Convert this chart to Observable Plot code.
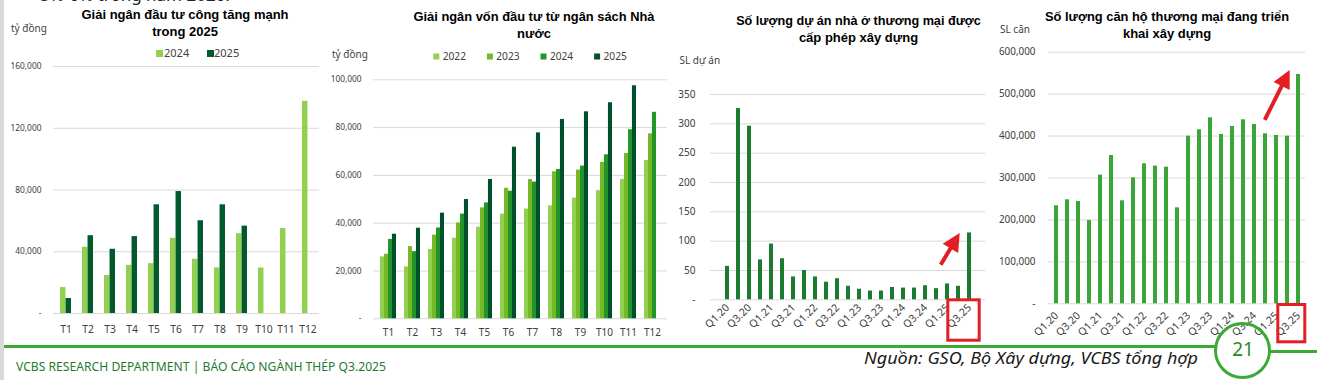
<!DOCTYPE html>
<html lang="vi">
<head>
<meta charset="utf-8">
<script src="https://cdn.jsdelivr.net/npm/d3@7"></script>
<script src="https://cdn.jsdelivr.net/npm/@observablehq/plot@0.6"></script>
<style>
html,body{margin:0;padding:0;background:#fff;}
#page{position:relative;width:1317px;height:380px;overflow:hidden;background:#fff;}
.chart{position:absolute;line-height:0;}
#overlay{position:absolute;left:0;top:0;pointer-events:none;}
</style>
</head>
<body>
<div id="page"></div>
<script>
// ---------- DATA ----------
const months = ["T1","T2","T3","T4","T5","T6","T7","T8","T9","T10","T11","T12"];

// Chart 1: Giải ngân đầu tư công (tỷ đồng)
const pub2024 = [16800, 42900, 24600, 31200, 32300, 48700, 35100, 29500, 51700, 29500, 55100, 137400];
const pub2025 = [9700, 50400, 41600, 49800, 70400, 79000, 60100, 70400, 56600];
const ticks1 = [0, 40000, 80000, 120000, 160000];

// Chart 2: Giải ngân vốn đầu tư từ ngân sách Nhà nước (tỷ đồng, lũy kế)
const bud2022 = [25900, 21700, 29000, 33700, 38300, 43800, 45900, 47300, 50500, 53600, 58300, 66200];
const bud2023 = [27000, 30200, 35000, 40100, 46400, 54600, 58300, 61500, 62200, 65400, 69200, 77400];
const bud2024 = [33200, 28100, 38000, 43800, 48500, 53400, 57200, 62500, 63900, 68600, 79100, 86400];
const bud2025 = [35400, 37900, 44200, 49900, 58300, 71800, 77800, 83400, 86600, 90400, 97500];
const ticks2 = [0, 20000, 40000, 60000, 80000, 100000];

// Chart 3 & 4: quarters
const quarters = ["Q1.20","Q2.20","Q3.20","Q4.20","Q1.21","Q2.21","Q3.21","Q4.21","Q1.22","Q2.22","Q3.22","Q4.22",
                  "Q1.23","Q2.23","Q3.23","Q4.23","Q1.24","Q2.24","Q3.24","Q4.24","Q1.25","Q2.25","Q3.25"];
const quarterTicks = ["Q1.20","Q3.20","Q1.21","Q3.21","Q1.22","Q3.22","Q1.23","Q3.23","Q1.24","Q3.24","Q1.25","Q3.25"];
const projects = [57, 326, 296, 68, 95, 70, 39, 50, 39, 30, 36, 23, 18, 15, 15, 21, 20, 20, 24, 19, 27, 23, 114];
const ticks3 = [0, 50, 100, 150, 200, 250, 300, 350];
const apartments = [233700, 248000, 244000, 198700, 306800, 353700, 245600, 300500, 333900, 328300, 325900, 228900,
                    399800, 415000, 443600, 403800, 422900, 438800, 427700, 405400, 401400, 399800, 546900];
const ticks4 = [0, 100000, 200000, 300000, 400000, 500000, 600000];

// ---------- HELPERS ----------
const page = document.getElementById("page");
const NS = "http://www.w3.org/2000/svg";
const fmt = d => d === 0 ? "-" : d3.format(",")(d);
const rows = (cats, vals) => cats.map((c, i) => ({cat: c, value: vals[i]})).filter(d => d.value != null);
const bandwidth = (w, ml, mr, n, pi, po) => (w - ml - mr) / (n - pi + 2 * po) * (1 - pi);
const tickFont = '"Noto Sans", "Open Sans", sans-serif';

function place(svg, left, top) {
  const d = document.createElement("div");
  d.className = "chart";
  d.style.left = left + "px";
  d.style.top = top + "px";
  d.appendChild(svg);
  page.appendChild(d);
  return svg;
}

// ---------- CHART 1 ----------
const C1 = {left: 0, top: 56, w: 320, h: 289, ml: 53, mr: 1, mt: 10, mb: 32, pi: 0.5, po: 0.25};
const bw1 = bandwidth(C1.w, C1.ml, C1.mr, months.length, C1.pi, C1.po);
const plot1 = place(Plot.plot({
  width: C1.w, height: C1.h, marginLeft: C1.ml, marginRight: C1.mr, marginTop: C1.mt, marginBottom: C1.mb,
  style: {fontFamily: tickFont, color: "#404040", background: "transparent", overflow: "visible"},
  x: {type: "band", domain: months, paddingInner: C1.pi, paddingOuter: C1.po},
  y: {domain: [0, 160000]},
  marks: [
    Plot.ruleY(ticks1, {stroke: "#d9d9d9", strokeWidth: 1}),
    Plot.barY(rows(months, pub2024), {x: "cat", y: "value", fill: "#92d050", insetRight: bw1 / 2}),
    Plot.barY(rows(months, pub2025), {x: "cat", y: "value", fill: "#005a2b", insetLeft: bw1 / 2}),
    Plot.axisX({tickSize: 0, tickPadding: 12, fontSize: 10.3, label: null}),
    Plot.axisY({ticks: ticks1, tickSize: 0, tickPadding: 12, tickFormat: fmt, fontSize: 8.4, label: null})
  ]
}), C1.left, C1.top);

// ---------- CHART 2 ----------
const C2 = {left: 320, top: 70, w: 348, h: 275, ml: 53, mr: 1, mt: 9.3, mb: 26.7, pi: 0.35, po: 0.175};
const bw2 = bandwidth(C2.w, C2.ml, C2.mr, months.length, C2.pi, C2.po);
const series2 = [[bud2022, "#92d050"], [bud2023, "#76b82a"], [bud2024, "#23962a"], [bud2025, "#00502b"]];
const plot2 = place(Plot.plot({
  width: C2.w, height: C2.h, marginLeft: C2.ml, marginRight: C2.mr, marginTop: C2.mt, marginBottom: C2.mb,
  style: {fontFamily: tickFont, color: "#404040", background: "transparent", overflow: "visible"},
  x: {type: "band", domain: months, paddingInner: C2.pi, paddingOuter: C2.po},
  y: {domain: [0, 100000]},
  marks: [
    Plot.ruleY(ticks2, {stroke: "#d9d9d9", strokeWidth: 1}),
    ...series2.map(([vals, color], k) =>
      Plot.barY(rows(months, vals), {x: "cat", y: "value", fill: color,
        insetLeft: k * bw2 / 4, insetRight: (3 - k) * bw2 / 4})),
    Plot.axisX({tickSize: 0, tickPadding: 10.5, fontSize: 10, label: null}),
    Plot.axisY({ticks: ticks2, tickSize: 0, tickPadding: 12, tickFormat: fmt, fontSize: 8.3, label: null})
  ]
}), C2.left, C2.top);

// ---------- CHART 3 ----------
const C3 = {left: 665, top: 80, w: 325, h: 265, ml: 45, mr: 5, mt: 14, mb: 45.7, pi: 0.66, po: 0.33};
const plot3 = place(Plot.plot({
  width: C3.w, height: C3.h, marginLeft: C3.ml, marginRight: C3.mr, marginTop: C3.mt, marginBottom: C3.mb,
  style: {fontFamily: tickFont, color: "#404040", background: "transparent", overflow: "visible"},
  x: {type: "band", domain: quarters, paddingInner: C3.pi, paddingOuter: C3.po},
  y: {domain: [0, 350]},
  marks: [
    Plot.ruleY(ticks3, {stroke: "#d9d9d9", strokeWidth: 1}),
    Plot.barY(rows(quarters, projects), {x: "cat", y: "value", fill: "#1b7b2f"}),
    Plot.axisX({ticks: quarterTicks, tickRotate: -45, tickSize: 0, tickPadding: 6, fontSize: 10.5, label: null}),
    Plot.axisY({ticks: ticks3, tickSize: 0, tickPadding: 15, tickFormat: fmt, fontSize: 10, label: null})
  ]
}), C3.left, C3.top);

// ---------- CHART 4 ----------
const C4 = {left: 990, top: 40, w: 317, h: 305, ml: 58, mr: 2, mt: 11.7, mb: 41.7, pi: 0.64, po: 0.32};
const plot4 = place(Plot.plot({
  width: C4.w, height: C4.h, marginLeft: C4.ml, marginRight: C4.mr, marginTop: C4.mt, marginBottom: C4.mb,
  style: {fontFamily: tickFont, color: "#404040", background: "transparent", overflow: "visible"},
  x: {type: "band", domain: quarters, paddingInner: C4.pi, paddingOuter: C4.po},
  y: {domain: [0, 600000]},
  marks: [
    Plot.ruleY(ticks4, {stroke: "#d9d9d9", strokeWidth: 1}),
    Plot.barY(rows(quarters, apartments), {x: "cat", y: "value", fill: "#3aa637"}),
    Plot.axisX({ticks: quarterTicks, tickRotate: -45, tickSize: 0, tickPadding: 10, fontSize: 10.5, label: null}),
    Plot.axisY({ticks: ticks4, tickSize: 0, tickPadding: 13, tickFormat: fmt, fontSize: 9.9, label: null})
  ]
}), C4.left, C4.top);

// ---------- OVERLAY (titles, legends, footer, annotations) ----------
const ov = document.createElementNS(NS, "svg");
ov.setAttribute("width", 1317); ov.setAttribute("height", 380); ov.id = "overlay";
page.appendChild(ov);
function el(tag, attrs) {
  const e = document.createElementNS(NS, tag);
  for (const k in attrs) e.setAttribute(k, attrs[k]);
  ov.appendChild(e);
  return e;
}
function text(str, attrs) { const t = el("text", attrs); t.textContent = str; return t; }

// left gray strip
el("rect", {x: 0, y: 0, width: 4, height: 380, fill: "#d9d9d9"});

// cut-off last line of the preceding paragraph (as in the reference slide)
text("5%-6% trong năm 2026.", {x: 40, y: 1, "font-family": tickFont, "font-size": 17, fill: "#222"});

const titleFont = '"Liberation Sans", Arial, sans-serif';
function title(lines, cx, baselines, len1) {
  lines.forEach((l, i) => {
    const a = {x: cx, y: baselines[i], "text-anchor": "middle", "font-family": titleFont,
      "font-weight": "bold", "font-size": 13, fill: "#000"};
    if (i === 0 && len1) { a.textLength = len1; a.lengthAdjust = "spacingAndGlyphs"; }
    text(l, a);
  });
}
title(["Giải ngân đầu tư công tăng mạnh", "trong 2025"], 185, [18.5, 36], 207);
title(["Giải ngân vốn đầu tư từ ngân sách Nhà", "nước"], 534, [20.7, 38.3], 241);
title(["Số lượng dự án nhà ở thương mại được", "cấp phép xây dựng"], 858.5, [25, 41.7], 244.7);
title(["Số lượng căn hộ thương mại đang triển", "khai xây dựng"], 1167, [20.7, 38.3], 244);

function unitLabel(str, x, y) { text(str, {x, y, "font-family": tickFont, "font-size": 10, fill: "#404040"}); }
unitLabel("tỷ đồng", 11, 32);
unitLabel("tỷ đồng", 332, 57.5);
unitLabel("SL dự án", 679.5, 64);
unitLabel("SL căn", 1000, 32.5);

// legends
function legendItem(label, color, x, ySw, size, fs, tx) {
  el("rect", {x, y: ySw, width: size, height: size, fill: color});
  text(label, {x: tx, y: ySw + size, "font-family": tickFont, "font-size": fs, fill: "#404040"});
}
legendItem("2024", "#92d050", 156, 50, 7, 11, 164);
legendItem("2025", "#005a2b", 207, 50, 7, 11, 214);
["2022", "2023", "2024", "2025"].forEach((lab, k) => {
  const x = 433.3 + k * 53.6;
  legendItem(lab, series2[k][1], x, 53.5, 6, 10.2, x + 9.4);
});

// footer
const green = "#3aaa35";
el("line", {x1: 4, y1: 346.5, x2: 1215.5, y2: 346.5, stroke: green, "stroke-width": 3});
el("line", {x1: 1269.5, y1: 351.5, x2: 1317, y2: 351.5, stroke: green, "stroke-width": 3});
el("circle", {cx: 1242.5, cy: 350.5, r: 27, fill: "none", stroke: green, "stroke-width": 3});
text("21", {x: 1243, y: 355.5, "text-anchor": "middle", "font-family": tickFont, "font-size": 19, fill: "#2a8a2a"});
text("VCBS RESEARCH DEPARTMENT | BÁO CÁO NGÀNH THÉP Q3.2025",
  {x: 16, y: 370.5, "font-family": tickFont, "font-size": 12.5, fill: "#1f7a30",
   textLength: 370, lengthAdjust: "spacingAndGlyphs"});
text("Nguồn: GSO, Bộ Xây dựng, VCBS tổng hợp",
  {x: 864, y: 364, "font-family": tickFont, "font-size": 16.5, "font-style": "italic", fill: "#1a1a1a",
   textLength: 334, lengthAdjust: "spacingAndGlyphs"});

// annotations (red box around last label, red arrow pointing to last bar)
const red = "#e31e24";
function arrow(x1, y1, x2, y2) {
  const dx = x2 - x1, dy = y2 - y1, L = Math.hypot(dx, dy);
  const ux = dx / L, uy = dy / L, nx = -uy, ny = ux;
  const hl = 18, hw = 9;
  const bx = x2 - ux * hl, by = y2 - uy * hl;
  el("line", {x1, y1, x2: bx + ux * 2, y2: by + uy * 2, stroke: red, "stroke-width": 4});
  el("polygon", {points: `${x2},${y2} ${bx + nx * hw},${by + ny * hw} ${bx - nx * hw},${by - ny * hw}`, fill: red});
}
function annotate(plot, C, value, box, arr) {
  const xs = plot.scale("x"), ys = plot.scale("y");
  const key = quarters[quarters.length - 1];
  const cx = C.left + xs.apply(key) + xs.bandwidth / 2;
  const yTop = C.top + ys.apply(value);
  const y0 = C.top + ys.apply(0);
  el("rect", {x: cx + box[0], y: y0 + box[1], width: box[2], height: box[3],
    fill: "none", stroke: red, "stroke-width": 3});
  arrow(cx + arr[0], yTop + arr[1], cx + arr[2], yTop + arr[3]);
}
annotate(plot3, C3, projects[projects.length - 1], [-21.2, 0.5, 31.4, 40.4], [-28.3, 32.3, -9.3, 0.6]);
annotate(plot4, C4, apartments[apartments.length - 1], [-20.2, 1.2, 27, 37.3], [-33.3, 46, -8.3, -4]);
</script>
</body>
</html>
